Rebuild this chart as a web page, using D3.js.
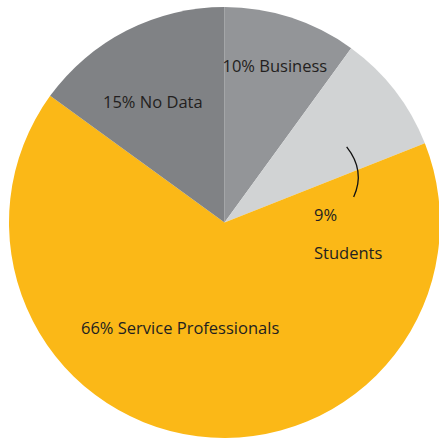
<!DOCTYPE html>
<html>
<head>
<meta charset="utf-8">
<script src="https://cdn.jsdelivr.net/npm/d3@7"></script>
<style>
  html, body { margin: 0; padding: 0; background: #ffffff; }
  svg { display: block; }
  text { font-family: "Open Sans", "Noto Sans", sans-serif; fill: #231f20; }
</style>
</head>
<body>
<svg id="chart" width="439" height="441"></svg>
<script>
// Audience breakdown, clockwise from twelve o'clock
const categories = ["Business", "Students", "Service Professionals", "No Data"];
const shares = [10, 9, 66, 15];
const sliceColors = ["#939598", "#d1d3d4", "#fbb817", "#808285"];

// Label text lines for each slice
const labelLines = [
  ["10% Business"],
  ["9%", "Students"],
  ["66% Service Professionals"],
  ["15% No Data"]
];
// Label anchor offsets from the pie centre (x, first baseline y)
const labelOffsets = [[-2, -150.5], [89.5, -1.5], [-143.5, 111.5], [-121.5, -114.5]];
const lineGap = 38;

const width = 439, height = 441;
const cx = 224.5, cy = 222.5, radius = 215.5;

const svg = d3.select("#chart");
const g = svg.append("g").attr("transform", `translate(${cx},${cy})`);

const data = categories.map((c, i) => ({ name: c, value: shares[i], i }));

const pie = d3.pie().sort(null).value(d => d.value);
const arc = d3.arc().innerRadius(0).outerRadius(radius);

const arcs = pie(data);

g.selectAll("path.slice")
  .data(arcs)
  .join("path")
  .attr("class", "slice")
  .attr("d", arc)
  .attr("fill", d => sliceColors[d.data.i]);

// Bracket tying the "9% Students" label to the narrow grey slice
const studentArc = arcs[1];
const bracketAngle = studentArc.endAngle;
const bracketR = 140;
const bx = Math.sin(bracketAngle) * bracketR;
const by = -Math.cos(bracketAngle) * bracketR;
g.append("path")
  .attr("d", `M${bx - 8},${by - 24} Q${bx + 11},${by} ${bx - 1},${by + 26}`)
  .attr("fill", "none")
  .attr("stroke", "#111")
  .attr("stroke-width", 1.3);

// Slice labels
arcs.forEach((a, k) => {
  const [ox, oy] = labelOffsets[k];
  const t = g.append("text")
    .attr("x", ox)
    .attr("y", oy)
    .attr("font-size", 16.5);
  labelLines[k].forEach((line, j) => {
    t.append("tspan")
      .attr("x", ox)
      .attr("y", oy + j * lineGap)
      .text(line);
  });
});
</script>
</body>
</html>
